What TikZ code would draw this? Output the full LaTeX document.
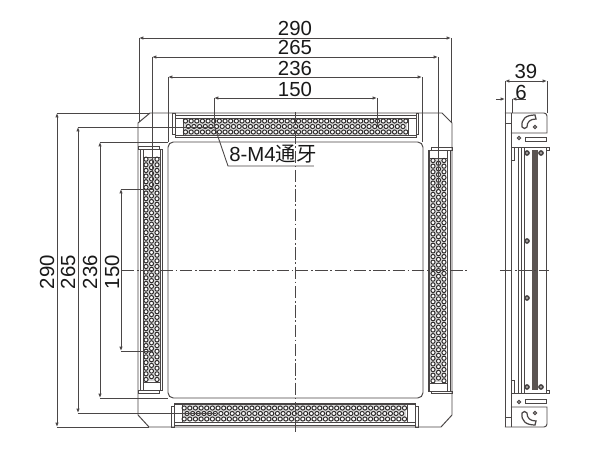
\documentclass[tikz,border=0pt]{standalone}
\usepackage{fontspec}
\setmainfont{Liberation Sans}
\newfontfamily\cjkfont{Noto Sans CJK SC}
\usetikzlibrary{arrows.meta}
\definecolor{linegray}{HTML}{4A4646}
\definecolor{bargray}{HTML}{5A5452}
\definecolor{holegray}{HTML}{2E2B2B}
\tikzset{
  part/.style={draw=linegray,line width=0.55pt},
  dimline/.style={draw=linegray,line width=0.5pt},
  dimarrow/.style={dimline,{Latex[length=2.5pt,width=2pt]}-{Latex[length=2.5pt,width=2pt]}},
  dimtip/.style={dimline,-{Latex[length=2.5pt,width=2pt]}},
  axisline/.style={draw=linegray,line width=0.4pt,dash pattern=on 7pt off 1.5pt on 1pt off 1.5pt},
  dimtext/.style={inner sep=0pt,font=\fontsize{11.6}{12}\selectfont,text=black!90},
  hole/.style={draw=holegray,fill=white,line width=0.55pt},
  pin/.style={draw=linegray,fill=bargray!60,line width=0.8pt}
}
\newcommand{\sidecap}{
\draw [part] (505,-113) -- (544,-113) arc (90:0:3) -- (547,-133) -- (511,-133);
\draw [part] (505,-123) -- (511,-123);
\draw [part] (511,-147) -- (549,-147) -- (549,-150) -- (546,-150);
\draw [part] (511,-160) -- (514,-160) -- (514,-147);
\draw [part] (525,-137) rectangle (546,-141);
\draw [part] (519,-138) circle (1.6);
\draw [part,line width=0.7pt] (522,-127) .. controls (521,-119) and (526,-115) .. (535,-115) -- (536,-119) .. controls (530,-119) and (527,-122) .. (527,-127) .. controls (526,-129) and (523,-129) .. (522,-127);
\draw [part] (535,-127) circle (1.6);
\draw [pin] (527,-153) circle (2.1);
\draw [pin] (541,-153) circle (2.1);
}
\begin{document}
\begin{tikzpicture}[x=0.02cm,y=0.02cm]
\useasboundingbox (0,0) rectangle (600,-450);
\fill [white] (0,0) rectangle (600,-450);
\draw [part] (150,-113) -- (442,-113) -- (452,-123) -- (452,-415) -- (441,-427) -- (149,-427) -- (138,-415) -- (138,-123) -- cycle;
\draw [part,rounded corners=3pt] (168,-142) rectangle (423,-398);
\foreach \a in {0,90,180,270} {
\begin{scope}[rotate around={\a:(295,-270)}]
\draw [part] (175,-115) rectangle (416,-137);
\draw [part] (172,-113) rectangle (175,-134);
\draw [part] (416,-113) rectangle (418.5,-134);
\draw [part] (175,-118) -- (416,-118);
\draw [part] (175,-135.5) -- (416,-135.5);
\draw [part] (183,-118) -- (183,-135.5);
\draw [part] (408,-118) -- (408,-135.5);
\fill [black!15] (184,-119) rectangle (407,-135);
\foreach \i in {0,...,39} {
\draw [hole] (185.5+5.65*\i,-121) circle (2.1);
\draw [hole] (185.5+5.65*\i,-132) circle (2.1);
}
\foreach \i in {0,...,38} {
\draw [hole] (188.3+5.65*\i,-126.5) circle (2.1);
}
\end{scope}
}
\coordinate (axisT) at (295,-112);
\coordinate (axisB) at (295,-432);
\coordinate (axisL) at (122,-270);
\coordinate (axisR) at (467,-270);
\draw [axisline] (axisT) -- (axisB);
\draw [axisline] (axisL) -- (axisR);
\coordinate (top290a) at (139,-38);
\coordinate (top290b) at (451,-38);
\coordinate (top265a) at (152,-57);
\coordinate (top265b) at (438,-57);
\coordinate (top236a) at (168,-77);
\coordinate (top236b) at (422,-77);
\coordinate (top150a) at (214,-98);
\coordinate (top150b) at (377,-98);
\draw [dimarrow] (top290a) -- (top290b);
\draw [dimarrow] (top265a) -- (top265b);
\draw [dimarrow] (top236a) -- (top236b);
\draw [dimarrow] (top150a) -- (top150b);
\draw [dimline] (top290a) -- (139,-122);
\draw [dimline] (top290b) -- (451,-122);
\draw [dimline] (top265a) -- (152,-189);
\draw [dimline] (top265b) -- (438,-189);
\draw [dimline] (top236a) -- (168,-142);
\draw [dimline] (top236b) -- (422,-142);
\draw [dimline] (top150a) -- (214,-127);
\draw [dimline] (top150b) -- (377,-127);
\node [dimtext] (label290t) at (295,-28) {290};
\node [dimtext] (label265t) at (295,-47) {265};
\node [dimtext] (label236t) at (295,-68) {236};
\node [dimtext] (label150t) at (295,-89) {150};
\coordinate (left290a) at (57,-113);
\coordinate (left290b) at (57,-427);
\coordinate (left265a) at (78,-127);
\coordinate (left265b) at (78,-413);
\coordinate (left236a) at (100,-142);
\coordinate (left236b) at (100,-398);
\coordinate (left150a) at (121,-189);
\coordinate (left150b) at (121,-351);
\draw [dimarrow] (left290a) -- (left290b);
\draw [dimarrow] (left265a) -- (left265b);
\draw [dimarrow] (left236a) -- (left236b);
\draw [dimarrow] (left150a) -- (left150b);
\draw [dimline] (left290a) -- (150,-113);
\draw [dimline] (left290b) -- (149,-427);
\draw [dimline] (left265a) -- (216,-127);
\draw [dimline] (left265b) -- (216,-413);
\draw [dimline] (left236a) -- (168,-142);
\draw [dimline] (left236b) -- (168,-398);
\draw [dimline] (left150a) -- (153,-189);
\draw [dimline] (left150b) -- (153,-351);
\node [dimtext,rotate=90] (label290l) at (47,-272) {290};
\node [dimtext,rotate=90] (label265l) at (68,-272) {265};
\node [dimtext,rotate=90] (label236l) at (90,-272) {236};
\node [dimtext,rotate=90] (label150l) at (112,-272) {150};
\coordinate (holeA) at (214,-125);
\coordinate (leaderA) at (228,-166);
\coordinate (leaderB) at (314,-166);
\draw [dimline] (holeA) -- (leaderA) -- (leaderB);
\node [dimtext,anchor=base west] (labelM4) at (229,-161) {8-M4{\cjkfont 通牙}};
\draw [part] (505,-113) -- (505,-427);
\draw [part] (511,-113) -- (511,-427);
\draw [part] (518,-147) -- (518,-393);
\draw [part] (521,-147) -- (521,-393);
\draw [part] (524,-147) -- (524,-393);
\draw [part] (546,-147) -- (546,-393);
\fill [bargray] (532,-150) rectangle (538,-390);
\sidecap
\begin{scope}[shift={(0,-540)},yscale=-1]
\sidecap
\end{scope}
\draw [pin] (527,-241) circle (2.1);
\draw [pin] (527,-298) circle (2.1);
\coordinate (axisSa) at (500,-270);
\coordinate (axisSb) at (549,-270);
\draw [axisline] (axisSa) -- (axisSb);
\coordinate (side39a) at (505,-81);
\coordinate (side39b) at (547,-81);
\coordinate (side6a) at (505,-99);
\coordinate (side6b) at (512,-99);
\draw [dimarrow] (side39a) -- (side39b);
\draw [dimline] (side39a) -- (505,-113);
\draw [dimline] (side39b) -- (547,-113);
\draw [dimline] (side6b) -- (512,-113);
\draw [dimtip] (496,-99) -- (side6a);
\draw [dimtip] (526,-99) -- (side6b);
\node [dimtext] (label39) at (526,-71) {39};
\node [dimtext] (label6) at (521,-92) {6};
\end{tikzpicture}
\end{document}
